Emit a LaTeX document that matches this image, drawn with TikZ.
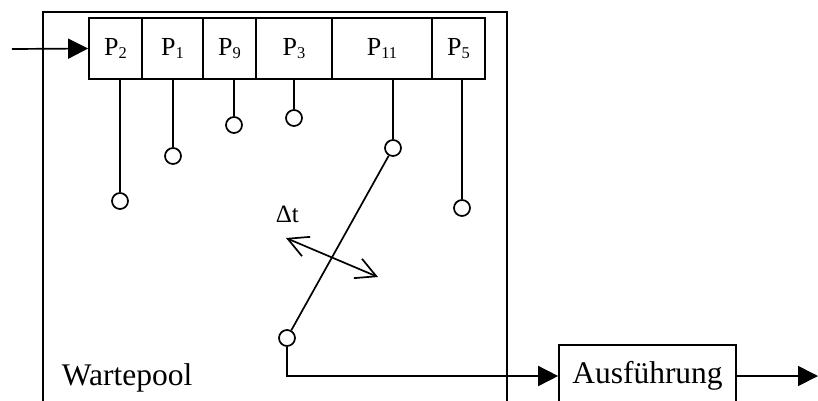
\documentclass[tikz,border=0pt]{standalone}
\usepackage{fontspec}
\setmainfont{Liberation Serif}
\usetikzlibrary{arrows.meta}
\newcommand\psub[1]{\raisebox{-3pt}{\fontsize{16.5}{16.5}\selectfont #1}}
\begin{document}
\begin{tikzpicture}[x=1pt,y=-1pt,line width=1.7pt,
  cell/.style={draw,minimum height=61pt,inner sep=0pt,font=\fontsize{26}{30}\selectfont},
  knob/.style={draw,circle,minimum size=16pt,inner sep=0pt,fill=white},
  bigtext/.style={font=\fontsize{31.5}{36}\selectfont},
  tri/.style={-{Triangle[length=20pt,width=20pt]}},
  barb/.style={{Straight Barb[length=20pt,width=21pt]}-{Straight Barb[length=20pt,width=21pt]}}]
\clip (0,0) rectangle (818,400);
% outer pool box
\node[draw,minimum width=464pt,minimum height=418pt,inner sep=0pt] (pool) at (275,221) {};
\node[bigtext,anchor=base west,inner sep=0pt] (wlabel) at (61,385) {Wartepool};
% queue cells
\node[cell,minimum width=53pt] (q2) at (115.5,48.5) {P\psub{2}};
\node[cell,minimum width=61pt] (q1) at (172.5,48.5) {P\psub{1}};
\node[cell,minimum width=53pt] (q9) at (229.5,48.5) {P\psub{9}};
\node[cell,minimum width=76pt] (q3) at (294,48.5) {P\psub{3}};
\node[cell,minimum width=100pt] (q11) at (382,48.5) {P\psub{11}};
\node[cell,minimum width=53pt] (q5) at (458.5,48.5) {P\psub{5}};
% entry arrow
\coordinate (in) at (12,49);
\draw[tri] (in) -- (q2.west);
% knobs
\node[knob] (c2) at (120,201) {};
\node[knob] (c1) at (173,156) {};
\node[knob] (c9) at (234,125) {};
\node[knob] (c3) at (294,118) {};
\node[knob] (c11) at (393,148) {};
\node[knob] (c5) at (462,208) {};
\node[knob] (cb) at (287,338) {};
\draw (c2.north) -- (c2.north |- q2.south);
\draw (c1.north) -- (c1.north |- q1.south);
\draw (c9.north) -- (c9.north |- q9.south);
\draw (c3.north) -- (c3.north |- q3.south);
\draw (c11.north) -- (c11.north |- q11.south);
\draw (c5.north) -- (c5.north |- q5.south);
\draw (c11) -- (cb);
% delta t
\node[font=\fontsize{25}{30}\selectfont,anchor=base west,inner sep=0pt] (dt) at (275,222) {Δt};
\coordinate (dta) at (286,238);
\coordinate (dtb) at (378,277);
\draw[barb] (dta) -- (dtb);
% execution
\node[draw,bigtext,minimum width=177pt,minimum height=62pt,inner sep=0pt] (exec) at (647.5,376) {Ausführung};
\draw[tri] (cb.south) |- (exec.west);
\coordinate (out) at (818,376);
\draw[tri] (exec.east) -- (out);
\end{tikzpicture}
\end{document}
